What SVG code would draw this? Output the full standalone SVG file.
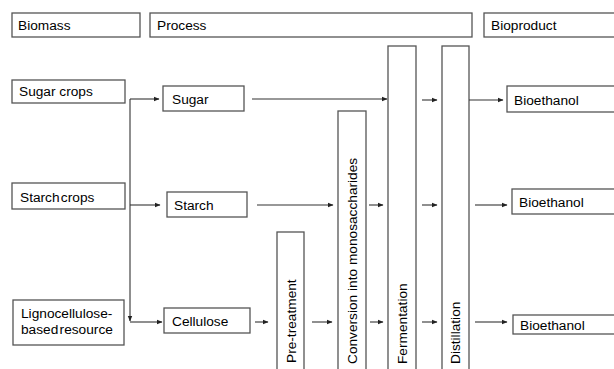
<svg xmlns="http://www.w3.org/2000/svg" width="614" height="369" viewBox="0 0 614 369">
<defs>
<marker id="ah" markerWidth="6" markerHeight="6" refX="5" refY="3" orient="auto" markerUnits="userSpaceOnUse">
<path d="M0,0.8 L5.5,3 L0,5.2 Z" fill="#222"/>
</marker>
<style>
.box{fill:#fff;stroke:#555;stroke-width:1.3}
.t{font-family:"Liberation Sans",Arial,sans-serif;font-size:13.7px;fill:#000}
.tight{word-spacing:-2.5px}
.c{fill:none;stroke:#333;stroke-width:1.1}
.a{fill:none;stroke:#333;stroke-width:1.1;marker-end:url(#ah)}
</style>
</defs>
<rect width="614" height="369" fill="#fff"/>
<g id="hdr-biomass"><rect class="box" x="12" y="13" width="128" height="24"/><text class="t" x="18" y="30">Biomass</text></g>
<g id="hdr-process"><rect class="box" x="150" y="13" width="322" height="24"/><text class="t" x="157" y="30">Process</text></g>
<g id="hdr-bioproduct"><rect class="box" x="484" y="13" width="140" height="24"/><text class="t" x="491" y="30">Bioproduct</text></g>

<g id="sugar-crops"><rect class="box" x="12" y="80" width="113" height="23"/><text class="t" x="19" y="96">Sugar crops</text></g>
<g id="starch-crops"><rect class="box" x="12" y="183" width="113" height="26"/><text class="t tight" x="20" y="202">Starch crops</text></g>
<g id="ligno"><rect class="box" x="13" y="300" width="111" height="45"/><text class="t" x="21" y="318">Lignocellulose-</text><text class="t tight" x="21" y="334">based resource</text></g>

<g id="sugar"><rect class="box" x="163" y="86" width="81" height="25"/><text class="t" x="172" y="104">Sugar</text></g>
<g id="starch"><rect class="box" x="167" y="192" width="80" height="25"/><text class="t" x="174" y="210">Starch</text></g>
<g id="cellulose"><rect class="box" x="164" y="308" width="86" height="25"/><text class="t" x="172" y="326">Cellulose</text></g>

<g id="pretreatment"><rect class="box" x="277" y="232" width="27" height="150"/><text class="t" transform="translate(296,363) rotate(-90)">Pre-treatment</text></g>
<g id="conversion"><rect class="box" x="338" y="111" width="28" height="270"/><text class="t" transform="translate(357,364) rotate(-90)">Conversion into monosaccharides</text></g>
<g id="fermentation"><rect class="box" x="388" y="46" width="28" height="335"/><text class="t" transform="translate(407,364) rotate(-90)">Fermentation</text></g>
<g id="distillation"><rect class="box" x="442" y="46" width="27" height="335"/><text class="t" transform="translate(460,364) rotate(-90)">Distillation</text></g>

<g id="bioethanol-1"><rect class="box" x="507" y="86" width="120" height="26"/><text class="t" x="514" y="105">Bioethanol</text></g>
<g id="bioethanol-2"><rect class="box" x="512" y="189" width="120" height="25"/><text class="t" x="519" y="207">Bioethanol</text></g>
<g id="bioethanol-3"><rect class="box" x="513" y="315" width="120" height="19"/><text class="t" x="520" y="330">Bioethanol</text></g>

<g id="connectors">
<path class="a" d="M130,99 V321"/>
<path class="a" d="M130,99 H159"/>
<path class="a" d="M130,205 H160"/>
<path class="a" d="M130,322 H162"/>
<path class="a" d="M252,99 H387"/>
<path class="a" d="M422,100 H437"/>
<path class="a" d="M469,100 H503"/>
<path class="a" d="M257,205 H333"/>
<path class="a" d="M369,205 H383"/>
<path class="a" d="M422,205 H437"/>
<path class="a" d="M475,205 H507"/>
<path class="a" d="M255,322 H268"/>
<path class="a" d="M312,322 H332"/>
<path class="a" d="M370,322 H383"/>
<path class="a" d="M422,322 H437"/>
<path class="a" d="M475,322 H507"/>
</g>
</svg>
